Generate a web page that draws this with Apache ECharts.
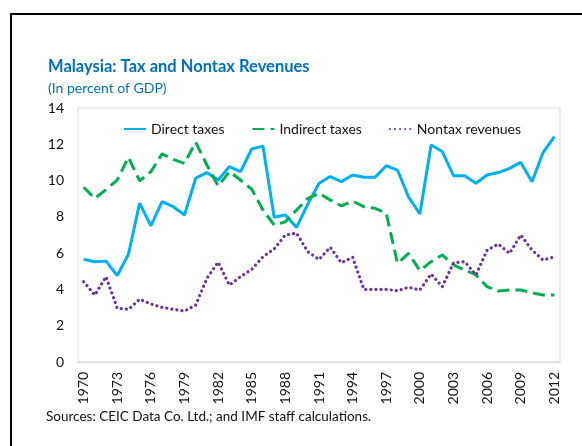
<!DOCTYPE html>
<html>
<head>
<meta charset="utf-8">
<script src="https://cdn.jsdelivr.net/npm/echarts@6/dist/echarts.min.js"></script>
<style>
  html, body { margin: 0; padding: 0; background: #fff; }
  #chart { width: 582px; height: 446px; }
</style>
</head>
<body>
<div id="chart"></div>
<script>
// 年份 1970-2012
var years = [];
for (var y = 1970; y <= 2012; y++) years.push(String(y));

var directTaxes = [5.66, 5.53, 5.56, 4.76, 5.94, 8.76, 7.5, 8.84, 8.56, 8.1,
  10.13, 10.44, 10.03, 10.77, 10.49, 11.74, 11.9, 7.98, 8.1, 7.42,
  8.7, 9.85, 10.22, 9.94, 10.31, 10.18, 10.18, 10.82, 10.58, 9.08,
  8.16, 11.96, 11.6, 10.27, 10.27, 9.85, 10.31, 10.44, 10.67, 11.0,
  9.94, 11.56, 12.42];

var indirectTaxes = [9.63, 9.02, 9.5, 10.03, 11.28, 9.98, 10.49, 11.47, 11.17, 10.95,
  12.11, 10.86, 9.7, 10.49, 10.03, 9.52, 8.38, 7.55, 7.73, 8.38,
  9.02, 9.3, 8.93, 8.6, 8.87, 8.56, 8.47, 8.2, 5.44, 5.99,
  5.03, 5.53, 5.9, 5.35, 5.07, 4.8, 4.15, 3.91, 3.97, 3.97,
  3.82, 3.69, 3.69];

var nontaxRevenues = [4.43, 3.69, 4.7, 2.96, 2.9, 3.46, 3.2, 3.01, 2.9, 2.81,
  3.14, 4.61, 5.5, 4.24, 4.7, 5.11, 5.8, 6.23, 7.0, 7.1,
  6.08, 5.65, 6.32, 5.47, 5.77, 4.0, 4.0, 4.0, 3.93, 4.12,
  3.97, 4.85, 4.15, 5.47, 5.53, 4.8, 6.17, 6.5, 5.99, 7.0,
  6.17, 5.62, 5.8];

var FONT = 'Lato';
var chart = echarts.init(document.getElementById('chart'));

chart.setOption({
  animation: false,
  backgroundColor: '#fff',
  textStyle: { fontFamily: FONT },
  title: {
    text: 'Malaysia: Tax and Nontax Revenues',
    subtext: '(In percent of GDP)',
    left: 43,
    top: 53,
    itemGap: 6,
    textStyle: { color: '#0070C0', fontSize: 16.5, fontWeight: 'bold', fontFamily: FONT },
    subtextStyle: { color: '#0070C0', fontSize: 14, fontFamily: FONT }
  },
  legend: {
    top: 117,
    left: 118,
    itemWidth: 22,
    itemHeight: 10,
    itemGap: 27,
    // 图例只显示线, 不显示圆点
    itemStyle: { opacity: 0 },
    textStyle: { fontSize: 14, color: '#111', fontFamily: FONT },
    data: ['Direct taxes', 'Indirect taxes', 'Nontax revenues']
  },
  grid: {
    left: 78,
    right: 22,
    top: 108,
    bottom: 84,
    show: true,
    borderColor: '#d9d9d9',
    borderWidth: 1
  },
  xAxis: {
    type: 'category',
    data: years,
    boundaryGap: true,
    axisLine: { lineStyle: { color: '#d9d9d9' } },
    axisTick: { show: false },
    axisLabel: {
      interval: 2,
      rotate: 90,
      margin: 10,
      fontSize: 14,
      color: '#111',
      fontFamily: FONT
    }
  },
  yAxis: {
    type: 'value',
    min: 0,
    max: 14,
    interval: 2,
    axisLine: { show: false },
    axisTick: { show: false },
    splitLine: { show: false },
    axisLabel: { fontSize: 14, color: '#111', margin: 14, fontFamily: FONT }
  },
  series: [
    {
      name: 'Direct taxes',
      type: 'line',
      data: directTaxes,
      symbol: 'none',
      color: '#00B0F0',
      lineStyle: { width: 3, color: '#00B0F0' }
    },
    {
      name: 'Indirect taxes',
      type: 'line',
      data: indirectTaxes,
      symbol: 'none',
      color: '#00B050',
      lineStyle: { width: 3, color: '#00B050', type: [12, 6] }
    },
    {
      name: 'Nontax revenues',
      type: 'line',
      data: nontaxRevenues,
      symbol: 'none',
      color: '#7030A0',
      lineStyle: { width: 3.2, color: '#7030A0', type: [0.1, 5], cap: 'round' }
    }
  ],
  graphic: [
    // 外框 (左/上黑线)
    {
      type: 'rect',
      silent: true,
      shape: { x: 11, y: 14, width: 800, height: 600 },
      style: { fill: 'none', stroke: '#000', lineWidth: 2 }
    },
    {
      type: 'text',
      left: 46,
      top: 410,
      style: {
        text: 'Sources: CEIC Data Co. Ltd.; and IMF staff calculations.',
        fontSize: 13.5,
        fontFamily: FONT,
        fill: '#111'
      }
    }
  ]
});
</script>
</body>
</html>
